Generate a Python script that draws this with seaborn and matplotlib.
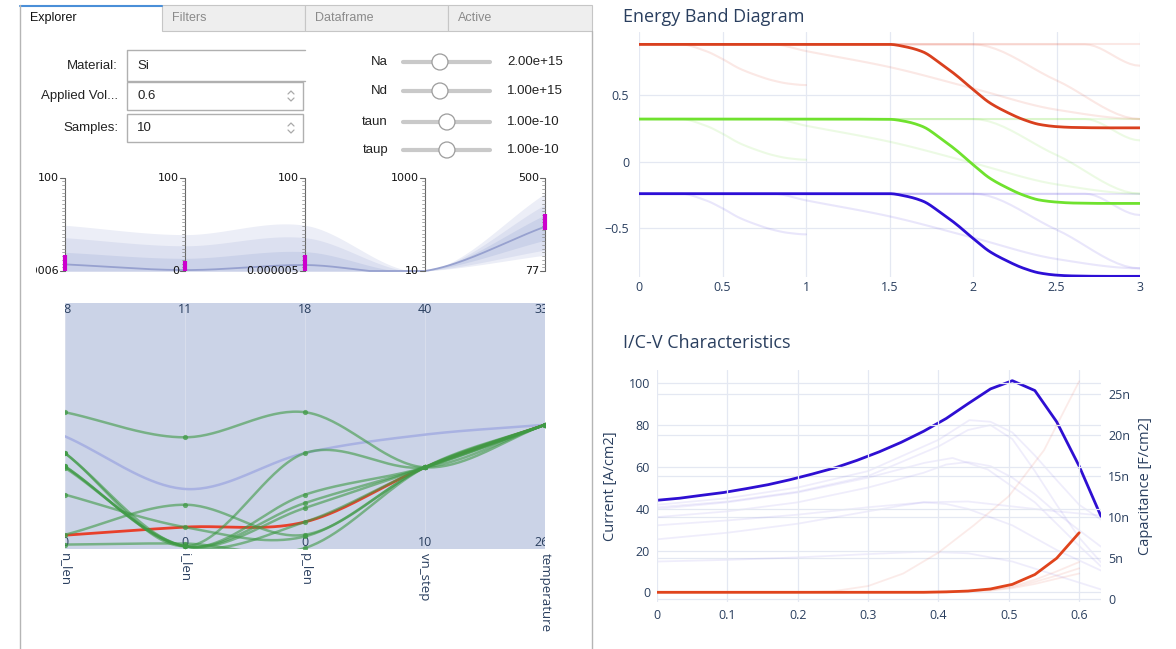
import numpy as np
import matplotlib
matplotlib.use("Agg")
import matplotlib.pyplot as plt
from matplotlib.patches import Rectangle, Circle
import seaborn as sns

W, H = 1176, 649
PLOT_FONT = "Open Sans"
UI_FONT = "Liberation Sans"
TXT = "#2a3f5f"
GRID = "#e4e8f2"

# ---------------- explorer widgets ----------------
tab_names = ["Explorer", "Filters", "Dataframe", "Active"]
form_labels = ["Material:", "Applied Vol...", "Samples:"]
form_values = ["Si", "0.6", "10"]
slider_names = ["Na", "Nd", "taun", "taup"]
slider_knob = [0.425, 0.425, 0.505, 0.505]
slider_values = ["2.00e+15", "1.00e+15", "1.00e-10", "1.00e-10"]

# ---------------- quantile bands (normalised per axis) ----------------
band_top_labels = ["100", "100", "100", "1000", "500"]
band_bottom_labels = ["0.0006", "0", "0.000005", "10", "77"]
band_outer_hi = [0.49, 0.39, 0.49, 0.0, 0.83]
band_mid_hi = [0.357, 0.27, 0.357, 0.0, 0.71]
band_inner_hi = [0.20, 0.136, 0.207, 0.0, 0.60]
band_median = [0.071, 0.01, 0.064, 0.0, 0.475]
band_inner_lo = [0.0, 0.0, 0.0, 0.0, 0.33]
band_mid_lo = [0.0, 0.0, 0.0, 0.0, 0.225]
band_outer_lo = [0.0, 0.0, 0.0, 0.0, 0.17]
sel_lo = [0.0, 0.0, 0.0, np.nan, 0.44]
sel_hi = [0.17, 0.107, 0.17, np.nan, 0.61]

# ---------------- parallel coordinates (normalised per axis) ----------------
pc_names = ["n_len", "i_len", "p_len", "vn_step", "temperature"]
pc_top = ["28", "11", "18", "40", "330"]
pc_bottom = ["0", "0", "0", "10", "260"]
pc_other = [0.458, 0.244, 0.390, 0.465, 0.505]
pc_current = [0.056, 0.089, 0.110, 0.332, 0.505]
pc_green = [
    [0.556, 0.454, 0.556, 0.332, 0.505],
    [0.390, 0.011, 0.390, 0.332, 0.505],
    [0.336, 0.011, 0.187, 0.332, 0.505],
    [0.336, 0.011, 0.167, 0.332, 0.505],
    [0.221, 0.089, 0.051, 0.332, 0.505],
    [0.058, 0.180, 0.058, 0.332, 0.505],
    [0.018, 0.022, 0.004, 0.332, 0.505],
    [0.330, 0.011, 0.110, 0.332, 0.505],
    [0.390, 0.011, 0.221, 0.332, 0.505],
]

# ---------------- energy band diagram ----------------
pos = [0, 0.5, 1.0, 1.5, 1.6, 1.7, 1.8, 1.9, 2.0, 2.1, 2.2, 2.3, 2.4, 2.5, 2.6, 2.8, 3.0]
Ec = [0.88, 0.88, 0.88, 0.88, 0.861, 0.824, 0.742, 0.648, 0.542, 0.442, 0.373,
      0.317, 0.279, 0.263, 0.257, 0.254, 0.254]
Ei = [0.32, 0.32, 0.32, 0.318, 0.301, 0.263, 0.181, 0.086, -0.022, -0.123, -0.193,
      -0.250, -0.288, -0.303, -0.310, -0.313, -0.313]
Ev = [-0.24, -0.24, -0.24, -0.24, -0.259, -0.296, -0.376, -0.469, -0.575, -0.674,
      -0.742, -0.798, -0.835, -0.851, -0.857, -0.86, -0.86]
faint_x = [
    [0, 3.0],
    [0, 0.25, 0.4, 0.5, 0.6, 0.7, 0.8, 0.9, 1.0],
    [0, 0.8, 1.0, 1.5, 2.0, 2.5, 3.0],
    [0, 2.0, 2.5, 3.0],
    [0, 2.67, 3.0],
]
faint_Ec = [
    [0.88, 0.88],
    [0.88, 0.88, 0.83, 0.77, 0.70, 0.65, 0.61, 0.585, 0.575],
    [0.88, 0.88, 0.83, 0.71, 0.55, 0.39, 0.32],
    [0.88, 0.88, 0.61, 0.32],
    [0.88, 0.88, 0.72],
]
faint_Ei = [
    [0.32, 0.32],
    [0.32, 0.32, 0.27, 0.21, 0.14, 0.09, 0.05, 0.025, 0.015],
    [0.32, 0.32, 0.27, 0.15, -0.01, -0.17, -0.24],
    [0.32, 0.32, 0.05, -0.24],
    [0.32, 0.32, 0.16],
]
faint_Ev = [
    [-0.24, -0.24],
    [-0.24, -0.24, -0.29, -0.35, -0.42, -0.47, -0.51, -0.535, -0.545],
    [-0.24, -0.24, -0.29, -0.41, -0.57, -0.73, -0.80],
    [-0.24, -0.24, -0.51, -0.80],
    [-0.24, -0.24, -0.40],
]

# ---------------- I/C-V ----------------
volts = [0.0, 0.032, 0.063, 0.095, 0.126, 0.158, 0.189, 0.221, 0.253, 0.284, 0.316,
         0.347, 0.379, 0.411, 0.442, 0.474, 0.505, 0.537, 0.568, 0.6, 0.631]
cap_nF = [12.05, 12.3, 12.65, 13.0, 13.45, 13.95, 14.55, 15.25, 16.0, 16.9, 17.95,
          19.1, 20.45, 22.0, 23.8, 25.6, 26.6, 25.4, 21.6, 16.2, 10.1]
current = [0, 0, 0, 0, 0, 0, 0, 0, 0, 0, 0, 0, 0, 0.2, 0.6, 1.6, 3.8, 8.5, 16.3, 28.5]
faint_cap = [
    ([0, 0.1, 0.2, 0.3, 0.4, 0.444, 0.474, 0.505, 0.537, 0.568, 0.6, 0.631],
     [11.5, 12.3, 13.6, 15.6, 19.4, 21.8, 21.6, 20.3, 17.5, 14.5, 11.5, 9.7]),
    ([0, 0.1, 0.2, 0.3, 0.4, 0.442, 0.474, 0.505, 0.537, 0.568, 0.6, 0.631],
     [11.2, 11.9, 13.1, 15.0, 18.6, 20.6, 21.2, 19.5, 15.6, 11.5, 7.5, 4.5]),
    ([0, 0.1, 0.2, 0.3, 0.379, 0.411, 0.442, 0.474, 0.505, 0.537, 0.568, 0.6, 0.631],
     [10.0, 10.7, 11.8, 13.6, 15.4, 16.4, 16.7, 16.2, 14.8, 12.8, 10.5, 8.4, 6.4]),
    ([0, 0.1, 0.2, 0.3, 0.38, 0.42, 0.47, 0.537, 0.6, 0.631],
     [11.0, 11.8, 13.0, 14.8, 16.6, 17.2, 15.8, 11.8, 6.5, 4.0]),
    ([0, 0.1, 0.2, 0.3, 0.379, 0.442, 0.505, 0.568, 0.631],
     [9.0, 9.6, 10.3, 11.2, 11.8, 11.9, 11.3, 10.7, 10.2]),
    ([0, 0.1, 0.2, 0.3, 0.347, 0.379, 0.411, 0.442, 0.505, 0.568, 0.631],
     [7.3, 8.1, 9.2, 10.7, 11.4, 11.8, 11.6, 11.0, 9.0, 6.0, 3.5]),
    ([0, 0.1, 0.2, 0.3, 0.379, 0.442, 0.505, 0.568, 0.631],
     [4.6, 4.8, 5.1, 5.5, 5.8, 5.6, 4.6, 2.9, 1.2]),
]
faint_cur = [
    ([0, 0.2, 0.25, 0.3, 0.35, 0.4, 0.45, 0.5, 0.55, 0.6],
     [0, 0, 0.5, 3, 9, 19, 32, 46, 68, 101]),
    ([0, 0.4, 0.474, 0.505, 0.537, 0.568, 0.6], [0, 0.3, 1.2, 3.0, 6.0, 10.0, 14.5]),
    ([0, 0.4, 0.474, 0.505, 0.537, 0.568, 0.6], [0, 0.2, 1.0, 2.5, 5.0, 8.0, 11.5]),
    ([0, 0.4, 0.474, 0.505, 0.537, 0.568, 0.6], [0, 0.1, 0.8, 2.0, 4.0, 6.5, 9.0]),
]


def spline(xs, ys, n=40, monotone=False):
    # cubic hermite through the given points, only used to draw smooth curves
    xs = np.asarray(xs, float)
    ys = np.asarray(ys, float)
    m = np.gradient(ys, xs)
    if monotone:
        d = np.diff(ys) / np.diff(xs)
        m = np.zeros_like(ys)
        for i in range(1, len(ys) - 1):
            if d[i - 1] * d[i] > 0:
                m[i] = 2 / (1 / d[i - 1] + 1 / d[i])
    t = np.linspace(0, 1, n)
    ox, oy = [], []
    for i in range(len(xs) - 1):
        h = xs[i + 1] - xs[i]
        h00 = 2 * t**3 - 3 * t**2 + 1
        h10 = t**3 - 2 * t**2 + t
        h01 = -2 * t**3 + 3 * t**2
        h11 = t**3 - t**2
        ox.append(xs[i] + t * h)
        oy.append(h00 * ys[i] + h10 * h * m[i] + h01 * ys[i + 1] + h11 * h * m[i + 1])
    return np.concatenate(ox), np.concatenate(oy)


sns.set_style("white")
plt.rcParams["font.family"] = [PLOT_FONT, "DejaVu Sans"]

fig = plt.figure(figsize=(W / 100, H / 100), dpi=100)


def px_axes(x0, y0, x1, y1, **kw):
    return fig.add_axes([x0 / W, 1 - y1 / H, (x1 - x0) / W, (y1 - y0) / H], **kw)


# ================= UI panel =================
ui = px_axes(0, 0, W, H)
ui.set_xlim(0, W)
ui.set_ylim(H, 0)
ui.axis("off")

tab_x = [20, 162, 305, 448, 592]
for i, name in enumerate(tab_names):
    x0, x1 = tab_x[i], tab_x[i + 1]
    if i == 0:
        ui.add_patch(Rectangle((x0, 5), x1 - x0, 26, fc="white", ec="none"))
        ui.plot([x0, x1], [5.5, 5.5], color="#4a8fd8", lw=1.5)
        col = "#111111"
    else:
        ui.add_patch(Rectangle((x0, 5), x1 - x0, 26, fc="#eeeeee", ec="#c6c6c6", lw=0.8))
        col = "#8a8a8a"
    ui.text(x0 + 10, 18, name, fontsize=9, color=col, va="center", family=UI_FONT)
ui.plot([20, 20], [5, H], color="#b5b5b5", lw=1)
ui.plot([592, 592], [31, H], color="#b5b5b5", lw=1)

row_y = [66, 96, 128]
box_top = [50, 82, 114]
box_bot = [81, 110, 142]
for i, lab in enumerate(form_labels):
    ui.text(118, row_y[i], lab, ha="right", va="center", fontsize=9.5, family=UI_FONT,
            color="#222222")
    ui.text(137, row_y[i], form_values[i], ha="left", va="center", fontsize=9.5,
            family=UI_FONT, color="#222222")
    if i == 0:
        ui.plot([305, 127, 127, 305], [box_top[i], box_top[i], box_bot[i], box_bot[i]],
                color="#b0b0b0", lw=1)
    else:
        ui.add_patch(Rectangle((127, box_top[i]), 176, box_bot[i] - box_top[i],
                               fc="white", ec="#b0b0b0", lw=1))
        ui.plot([288, 291, 294], [row_y[i] - 2, row_y[i] - 5, row_y[i] - 2], color="#aaaaaa", lw=0.9)
        ui.plot([288, 291, 294], [row_y[i] + 2, row_y[i] + 5, row_y[i] + 2], color="#aaaaaa", lw=0.9)

slider_y = [62, 91, 122, 150]
for i, name in enumerate(slider_names):
    y = slider_y[i]
    ui.text(388, y, name, ha="right", va="center", fontsize=9.5, family=UI_FONT, color="#222222")
    ui.plot([403, 490], [y, y], color="#c9c9c9", lw=3, solid_capstyle="round")
    ui.add_patch(Circle((403 + slider_knob[i] * 87, y), 8, fc="white", ec="#9c9c9c", lw=0.9, zorder=3))
    ui.text(507, y, slider_values[i], ha="left", va="center", fontsize=9.5, family=UI_FONT,
            color="#222222")

# ================= quantile bands =================
bx = [0, 1, 2, 3, 4]
bd = px_axes(36, 170, 575, 290)
for lo, hi, c in [(band_outer_lo, band_outer_hi, "#eceef7"),
                  (band_mid_lo, band_mid_hi, "#dce0f0"),
                  (band_inner_lo, band_inner_hi, "#cbd2e9")]:
    sx, slo = spline(bx, lo)
    _, shi = spline(bx, hi)
    bd.fill_between(sx, np.clip(slo, 0, None), np.clip(shi, 0, None), color=c, lw=0)
mx, my = spline(bx, band_median)
sns.lineplot(x=mx, y=np.clip(my, 0, None), ax=bd, color="#97a1cf", lw=1.3, sort=False,
             estimator=None, legend=False)
bd.axis("off")
for i in bx:
    bd.plot([i, i], [0, 1], color="#666666", lw=0.8)
    for tk in np.arange(0, 1.001, 0.04):
        bd.plot([i - 0.025, i], [tk, tk], color="#888888", lw=0.5)
    bd.plot([i - 0.04, i], [1, 1], color="#666666", lw=0.8)
    bd.plot([i - 0.04, i], [0, 0], color="#666666", lw=0.8)
    bd.text(i - 0.05, 1, band_top_labels[i], ha="right", va="center", fontsize=8,
            family="DejaVu Sans", color="#111111", clip_on=True)
    bd.text(i - 0.05, 0, band_bottom_labels[i], ha="right", va="center", fontsize=8,
            family="DejaVu Sans", color="#111111", clip_on=True)
    if not np.isnan(sel_lo[i]):
        bd.plot([i, i], [sel_lo[i], sel_hi[i]], color="#cc00cc", lw=3, solid_capstyle="butt")
bd.set_xlim(-(65 - 36) / 120, 4 + (575 - 545) / 120)
bd.set_ylim(-(290 - 271) / 93.3, 1 + (177.7 - 170) / 93.3)

# ================= parallel coordinates =================
pc = px_axes(65, 303, 545, 549)
pc.set_facecolor("#cbd3e7")
for i in bx:
    pc.axvline(i, color="#d9deec", lw=0.7)
ox, oy = spline(bx, pc_other)
sns.lineplot(x=ox, y=oy, ax=pc, color="#a9b2e2", lw=1.8, sort=False, estimator=None, legend=False)
cx, cy = spline(bx, pc_current)
sns.lineplot(x=cx, y=cy, ax=pc, color="#e8402c", lw=2.0, sort=False, estimator=None, legend=False)
for g in pc_green:
    gx, gy = spline(bx, g)
    sns.lineplot(x=gx, y=gy, ax=pc, color="#3f9a45", lw=1.8, alpha=0.6, sort=False,
                 estimator=None, legend=False)
    pc.scatter(bx, g, s=14, color="#3f9a45", alpha=0.75, zorder=4, lw=0)
for i in bx:
    pc.text(i, 0.975, pc_top[i], ha="center", va="center", fontsize=9, color=TXT, clip_on=True)
    pc.text(i, 0.025, pc_bottom[i], ha="center", va="center", fontsize=9, color=TXT, clip_on=True)
    ui.text(65 + 120 * i, 553, pc_names[i], rotation=-90, ha="center", va="top",
            fontsize=9.5, color=TXT)
pc.set_xlim(0, 4)
pc.set_ylim(0, 1)
pc.set_xticks([])
pc.set_yticks([])
pc.set_xlabel("")
pc.set_ylabel("")
for s in pc.spines.values():
    s.set_visible(False)

# ================= energy band diagram =================
eb = px_axes(639, 32.4, 1140, 277)
for fx, fy in zip(faint_x, faint_Ec):
    sx, sy = spline(fx, fy, n=12, monotone=True)
    sns.lineplot(x=sx, y=sy, ax=eb, color="#e0442a", lw=1.5, alpha=0.12, sort=False,
                 estimator=None, legend=False)
for fx, fy in zip(faint_x, faint_Ei):
    sx, sy = spline(fx, fy, n=12, monotone=True)
    sns.lineplot(x=sx, y=sy, ax=eb, color="#66dd22", lw=1.5, alpha=0.12, sort=False,
                 estimator=None, legend=False)
for fx, fy in zip(faint_x, faint_Ev):
    sx, sy = spline(fx, fy, n=12, monotone=True)
    sns.lineplot(x=sx, y=sy, ax=eb, color="#2a10d8", lw=1.5, alpha=0.10, sort=False,
                 estimator=None, legend=False)
for ys, c in [(Ec, "#d9401e"), (Ei, "#6fe22e"), (Ev, "#2d0fd6")]:
    sx, sy = spline(pos, ys, n=12, monotone=True)
    sns.lineplot(x=sx, y=sy, ax=eb, color=c, lw=2.0, sort=False, estimator=None, legend=False)
eb.set_xlim(0, 3)
eb.set_ylim(-0.865, 0.97)
eb.set_xticks([0, 0.5, 1, 1.5, 2, 2.5, 3])
eb.set_xticklabels(["0", "0.5", "1", "1.5", "2", "2.5", "3"])
eb.set_yticks([-0.5, 0, 0.5])
eb.set_yticklabels(["\u22120.5", "0", "0.5"])
eb.grid(True, color=GRID, lw=0.9)
eb.set_axisbelow(True)
eb.tick_params(axis="y", labelsize=9, labelcolor=TXT, length=0, pad=7)
eb.tick_params(axis="x", labelsize=9, labelcolor=TXT, length=0, pad=3)
eb.set_xlabel("")
eb.set_ylabel("")
for s in eb.spines.values():
    s.set_visible(False)
fig.text(623 / W, 1 - 17 / H, "Energy Band Diagram", fontsize=13, color=TXT, va="center")

# ================= I/C-V characteristics =================
iv = px_axes(657, 370, 1101, 601.7)
cv = iv.twinx()
for fx, fy in faint_cap:
    sns.lineplot(x=fx, y=fy, ax=cv, color="#3a22d8", lw=1.3, alpha=0.08, legend=False)
for fx, fy in faint_cur:
    sns.lineplot(x=fx, y=fy, ax=iv, color="#e0442a", lw=1.3, alpha=0.10, legend=False)
sns.lineplot(x=volts[:len(current)], y=current, ax=iv, color="#e0441c", lw=2.0, legend=False)
sns.lineplot(x=volts, y=cap_nF, ax=cv, color="#2e0fd2", lw=2.0, legend=False)
iv.set_xlim(0, 0.631)
iv.set_ylim(-4.5, 106.4)
cv.set_ylim(-0.29, 27.9)
iv.set_xticks([0, 0.1, 0.2, 0.3, 0.4, 0.5, 0.6])
iv.set_xticklabels(["0", "0.1", "0.2", "0.3", "0.4", "0.5", "0.6"])
iv.set_yticks([0, 20, 40, 60, 80, 100])
cv.set_yticks([0, 5, 10, 15, 20, 25])
cv.set_yticklabels(["0", "5n", "10n", "15n", "20n", "25n"])
iv.grid(True, color=GRID, lw=0.9)
cv.grid(True, axis="y", color=GRID, lw=0.9)
iv.set_axisbelow(True)
cv.set_axisbelow(True)
iv.set_zorder(cv.get_zorder() + 1)
iv.patch.set_visible(False)
iv.tick_params(labelsize=9, labelcolor=TXT, length=0, pad=5)
cv.tick_params(labelsize=9, labelcolor=TXT, length=0, pad=5)
iv.set_xlabel("")
iv.set_ylabel("Current [A/cm2]", fontsize=10.5, color=TXT, labelpad=8)
cv.set_ylabel("Capacitance [F/cm2]", fontsize=10.5, color=TXT, labelpad=6)
for a in (iv, cv):
    for s in a.spines.values():
        s.set_visible(False)
fig.text(623 / W, 1 - 343 / H, "I/C-V Characteristics", fontsize=13, color=TXT, va="center")

fig.savefig("out.png", dpi=100)
